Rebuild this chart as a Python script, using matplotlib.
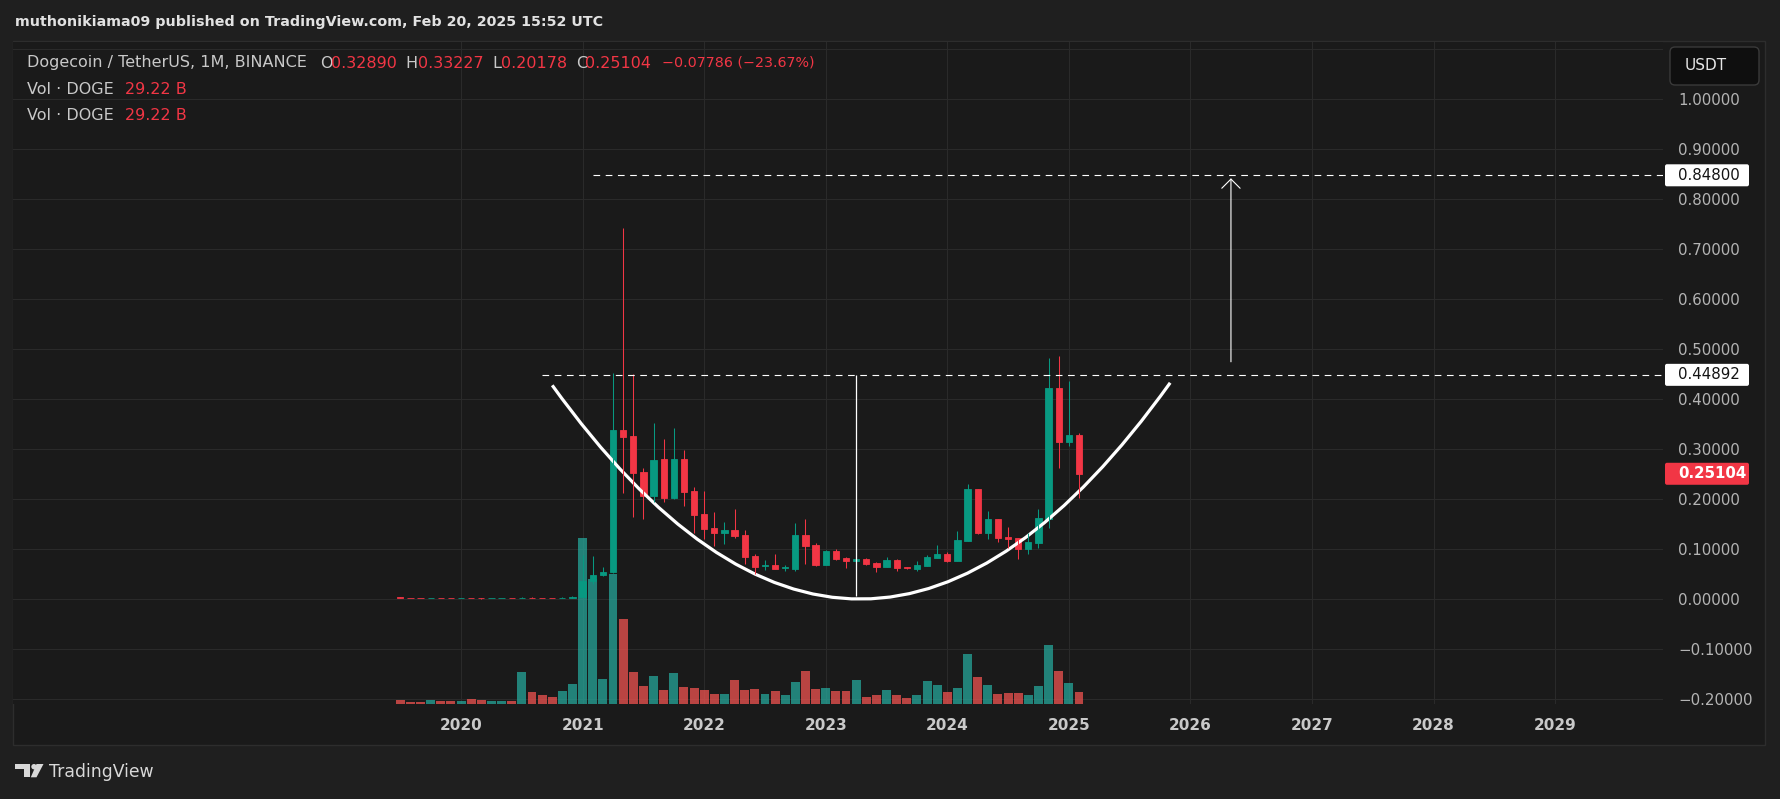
import numpy as np
import matplotlib
matplotlib.use("Agg")
import matplotlib.pyplot as plt
from matplotlib.path import Path
from matplotlib.patches import PathPatch, FancyBboxPatch, Polygon, Circle, Rectangle
from matplotlib.ticker import FuncFormatter

# monthly DOGE/USDT candles, bar 0 = Jul 2019 ... bar 67 = Feb 2025
opens = [0.0040, 0.0031, 0.0025, 0.0024, 0.0027, 0.0023, 0.0020, 0.0026, 0.0023, 0.0019,
         0.0020, 0.0025, 0.0024, 0.0033, 0.0031, 0.0027, 0.0026, 0.0033, 0.0047, 0.0370,
         0.0486, 0.0545, 0.3386, 0.3266, 0.2546, 0.2066, 0.2806, 0.2033, 0.2806, 0.2166,
         0.1706, 0.1426, 0.1333, 0.1386, 0.1286, 0.0866, 0.0666, 0.0686, 0.0626, 0.0606,
         0.1286, 0.1086, 0.0686, 0.0966, 0.0826, 0.0766, 0.0806, 0.0726, 0.0646, 0.0786,
         0.0646, 0.0606, 0.0666, 0.0826, 0.0906, 0.0766, 0.1166, 0.2206, 0.1326, 0.1606,
         0.1246, 0.1226, 0.1006, 0.1126, 0.1606, 0.4226, 0.3146, 0.32890]
highs = [0.0046, 0.0036, 0.0028, 0.0029, 0.0028, 0.0024, 0.0025, 0.0036, 0.0025, 0.0021,
         0.0026, 0.0026, 0.0042, 0.0037, 0.0032, 0.0028, 0.0038, 0.0060, 0.0880, 0.0860,
         0.0650, 0.4520, 0.7420, 0.4506, 0.2619, 0.3520, 0.3213, 0.3420, 0.2986, 0.2253,
         0.2166, 0.1746, 0.1546, 0.1806, 0.1386, 0.0906, 0.0786, 0.0906, 0.0686, 0.1526,
         0.1606, 0.1126, 0.0986, 0.1006, 0.0846, 0.1066, 0.0826, 0.0746, 0.0846, 0.0800,
         0.0656, 0.0766, 0.0886, 0.1086, 0.0946, 0.1366, 0.2306, 0.2210, 0.1766, 0.1610,
         0.1446, 0.1230, 0.1326, 0.1806, 0.4826, 0.4866, 0.4366, 0.33227]
lows = [0.0030, 0.0024, 0.0022, 0.0023, 0.0022, 0.0019, 0.0020, 0.0022, 0.0014, 0.0018,
        0.0020, 0.0023, 0.0024, 0.0030, 0.0025, 0.0024, 0.0025, 0.0026, 0.0046, 0.0300,
        0.0470, 0.0520, 0.2130, 0.1650, 0.1610, 0.1950, 0.1950, 0.2000, 0.1873, 0.1333,
        0.1206, 0.1073, 0.1113, 0.1226, 0.0713, 0.0506, 0.0586, 0.0600, 0.0566, 0.0566,
        0.0706, 0.0666, 0.0680, 0.0786, 0.0626, 0.0760, 0.0696, 0.0546, 0.0640, 0.0566,
        0.0616, 0.0566, 0.0660, 0.0826, 0.0746, 0.0760, 0.1160, 0.1306, 0.1206, 0.1146,
        0.1026, 0.0806, 0.0906, 0.1026, 0.1426, 0.2626, 0.3066, 0.20178]
closes = [0.0031, 0.0025, 0.0024, 0.0027, 0.0023, 0.0020, 0.0024, 0.0023, 0.0019, 0.0020,
          0.0025, 0.0024, 0.0033, 0.0031, 0.0027, 0.0026, 0.0033, 0.0047, 0.0370, 0.0486,
          0.0545, 0.3386, 0.3246, 0.2530, 0.2066, 0.2786, 0.2033, 0.2806, 0.2153, 0.1686,
          0.1406, 0.1333, 0.1386, 0.1266, 0.0846, 0.0646, 0.0693, 0.0606, 0.0639, 0.1286,
          0.1066, 0.0686, 0.0966, 0.0806, 0.0766, 0.0806, 0.0706, 0.0646, 0.0786, 0.0626,
          0.0626, 0.0686, 0.0846, 0.0906, 0.0776, 0.1186, 0.2206, 0.1326, 0.1606, 0.1226,
          0.1206, 0.1006, 0.1146, 0.1626, 0.4226, 0.3146, 0.3289, 0.25104]
# volume in billions of DOGE
volumes_b = [9.7, 4.9, 4.9, 9.7, 7.3, 7.3, 7.3, 12.2, 9.7, 7.3,
             7.3, 7.3, 77.9, 29.2, 21.9, 17.0, 31.7, 48.7, 404.2, 304.4,
             60.9, 316.6, 207.0, 77.9, 43.8, 68.2, 34.1, 75.5, 41.4, 39.0,
             34.1, 24.4, 24.4, 58.4, 34.1, 36.5, 24.4, 31.7, 21.9, 53.6,
             80.4, 36.5, 39.0, 31.7, 31.7, 58.4, 17.0, 21.9, 34.1, 21.9,
             14.6, 21.9, 56.0, 46.3, 29.2, 39.0, 121.8, 65.7, 46.3, 24.4,
             26.8, 26.8, 21.9, 43.8, 143.7, 80.4, 51.1, 29.22]

year_ticks = [6, 18, 30, 42, 54, 66, 78, 90, 102, 114]
year_labels = ['2020', '2021', '2022', '2023', '2024', '2025', '2026', '2027', '2028', '2029']
price_ticks = [-0.2, -0.1, 0.0, 0.1, 0.2, 0.3, 0.4, 0.5, 0.6, 0.7, 0.8, 0.9, 1.0, 1.1]

# drawings on the chart
neckline = 0.44892
target = 0.84800
last_close = 0.25104
cup_pts = [(15, 0.428), (45.5, -0.4295), (76, 0.433)]
depth_x, depth_top, depth_bottom = 45, 0.448, 0.0066
arrow_x, arrow_from, arrow_to = 82, 0.475, 0.842

W, H, DPI = 1781, 799, 100
OUTER = '#1f1f1f'
PANEL = '#1a1a1a'
GRID = '#2a2a2a'
UP, DOWN = '#089981', '#f23645'
VUP, VDOWN = '#26a69a', '#ef5350'
TXT = '#c9c9c9'

plt.rcParams['font.family'] = 'DejaVu Sans'

fig = plt.figure(figsize=(W / DPI, H / DPI), dpi=DPI, facecolor=OUTER)


def rect_px(x0, y0, x1, y1):
    return [x0 / W, 1 - y1 / H, (x1 - x0) / W, (y1 - y0) / H]


# background panel
bg = fig.add_axes([0, 0, 1, 1], zorder=-5)
bg.set_xlim(0, W)
bg.set_ylim(H, 0)
bg.axis('off')
bg.add_patch(Rectangle((13, 41), 1752, 704, facecolor=PANEL, edgecolor='#2d2d2d', lw=1.0))

plot_rect = rect_px(13, 42, 1663, 704)
xl = (-38.23, 124.65)
yl = (-0.2094, 1.1146)


def price_fmt(v, pos):
    if v > 1.05:
        return ''
    return ('%.5f' % v).replace('-', '\u2212')


ax = fig.add_axes(plot_rect, zorder=0)
ax.set_facecolor(PANEL)
ax.set_xlim(*xl)
ax.set_ylim(*yl)
for s in ax.spines.values():
    s.set_visible(False)
ax.set_xticks(year_ticks)
ax.set_xticklabels(year_labels)
ax.set_yticks(price_ticks)
ax.yaxis.set_major_formatter(FuncFormatter(price_fmt))
ax.yaxis.tick_right()
ax.tick_params(axis='y', length=0, pad=10.8, labelsize=10.8, colors='#b4b4b4')
ax.tick_params(axis='x', length=0, pad=10, labelsize=11, colors=TXT)
for t in ax.get_xticklabels():
    t.set_fontweight('bold')
ax.grid(True, color=GRID, lw=0.75)

# volume pane
vax = fig.add_axes(plot_rect, zorder=1, sharex=ax)
vax.patch.set_visible(False)
vax.axis('off')
vax.set_ylim(0, 1612)

idx = np.arange(len(opens))
o = np.array(opens)
c = np.array(closes)
up = c >= o
vax.bar(idx, volumes_b, width=0.88, color=np.where(up, VUP, VDOWN), alpha=0.75, linewidth=0)

# candles and drawings
cax = fig.add_axes(plot_rect, zorder=2, sharex=ax, sharey=ax)
cax.patch.set_visible(False)
cax.axis('off')
cols = np.where(up, UP, DOWN)
cax.vlines(idx, lows, highs, colors=cols, lw=0.75)
cax.bar(idx, np.abs(c - o), bottom=np.minimum(o, c), width=0.62, color=cols,
        edgecolor=cols, linewidth=0.6)

cup = Path(cup_pts, [Path.MOVETO, Path.CURVE3, Path.CURVE3])
cax.add_patch(PathPatch(cup, facecolor='none', edgecolor='white', lw=2.3))
cax.vlines(depth_x, depth_bottom, depth_top, colors='white', lw=0.9)
cax.hlines(neckline, 14, xl[1], colors='white', lw=0.8, linestyles=(0, (6, 5)))
cax.hlines(target, 19, xl[1], colors='white', lw=0.8, linestyles=(0, (6, 5)))
cax.annotate('', xy=(arrow_x, arrow_to), xytext=(arrow_x, arrow_from),
             arrowprops=dict(arrowstyle='->,head_length=0.55,head_width=0.55',
                             color='white', lw=0.8, shrinkA=0, shrinkB=0,
                             mutation_scale=12))

# overlay in pixel coordinates
ov = fig.add_axes([0, 0, 1, 1], zorder=10)
ov.set_xlim(0, W)
ov.set_ylim(H, 0)
ov.axis('off')
ov.patch.set_visible(False)

ov.text(15, 22, 'muthonikiama09 published on TradingView.com, Feb 20, 2025 15:52 UTC',
        fontsize=10.3, color='#e2e2e2', va='center', ha='left', fontweight='semibold')

hy = 63
hfs = 11.5
ov.text(27, hy, 'Dogecoin / TetherUS, 1M, BINANCE', fontsize=hfs, color=TXT, va='center')
for lab, lx, val, vx in [('O', 320, '0.32890', 331), ('H', 405, '0.33227', 418),
                         ('L', 492, '0.20178', 501), ('C', 576, '0.25104', 585)]:
    ov.text(lx, hy, lab, fontsize=hfs, color=TXT, va='center')
    ov.text(vx, hy, val, fontsize=hfs, color=DOWN, va='center')
ov.text(662, hy, '\u22120.07786 (\u221223.67%)', fontsize=10.3, color=DOWN, va='center')
for vy in (90, 115):
    ov.text(27, vy, 'Vol \u00b7 DOGE', fontsize=hfs, color=TXT, va='center')
    ov.text(125, vy, '29.22 B', fontsize=hfs, color=DOWN, va='center')

# currency box
ov.add_patch(FancyBboxPatch((1670, 47), 89, 38, boxstyle='round,pad=0,rounding_size=5',
                            facecolor='#0f0f0f', edgecolor='#3a3a3a', lw=1.0))
ov.text(1685, 66, 'USDT', fontsize=11, color='#e6e6e6', va='center', ha='left')


def price_to_py(p):
    return H - ax.transData.transform((0, p))[1]


for p, txt, fc, tc, fw in [(target, '0.84800', 'white', '#131313', 'normal'),
                           (neckline, '0.44892', 'white', '#131313', 'normal'),
                           (last_close, '0.25104', DOWN, 'white', 'bold')]:
    py = price_to_py(p)
    ov.add_patch(FancyBboxPatch((1665, py - 11), 84, 22, boxstyle='round,pad=0,rounding_size=2',
                                facecolor=fc, edgecolor='none'))
    ov.text(1678, py, txt, fontsize=10.8, color=tc, va='center', ha='left', fontweight=fw)

# TradingView logo
logo = '#d8d8d8'
ov.add_patch(Rectangle((15, 764), 15, 5.3, facecolor=logo, edgecolor='none'))
ov.add_patch(Rectangle((24, 764), 6, 13.3, facecolor=logo, edgecolor='none'))
ov.add_patch(Circle((34, 766.7), 2.7, facecolor=logo, edgecolor='none'))
ov.add_patch(Polygon([(36.5, 764), (43.5, 764), (36.5, 777.3), (30.8, 777.3)],
                     closed=True, facecolor=logo, edgecolor='none'))
ov.text(49, 772, 'TradingView', fontsize=12.4, color=logo, va='center', ha='left')

fig.savefig('out.png', dpi=DPI, facecolor=OUTER)
